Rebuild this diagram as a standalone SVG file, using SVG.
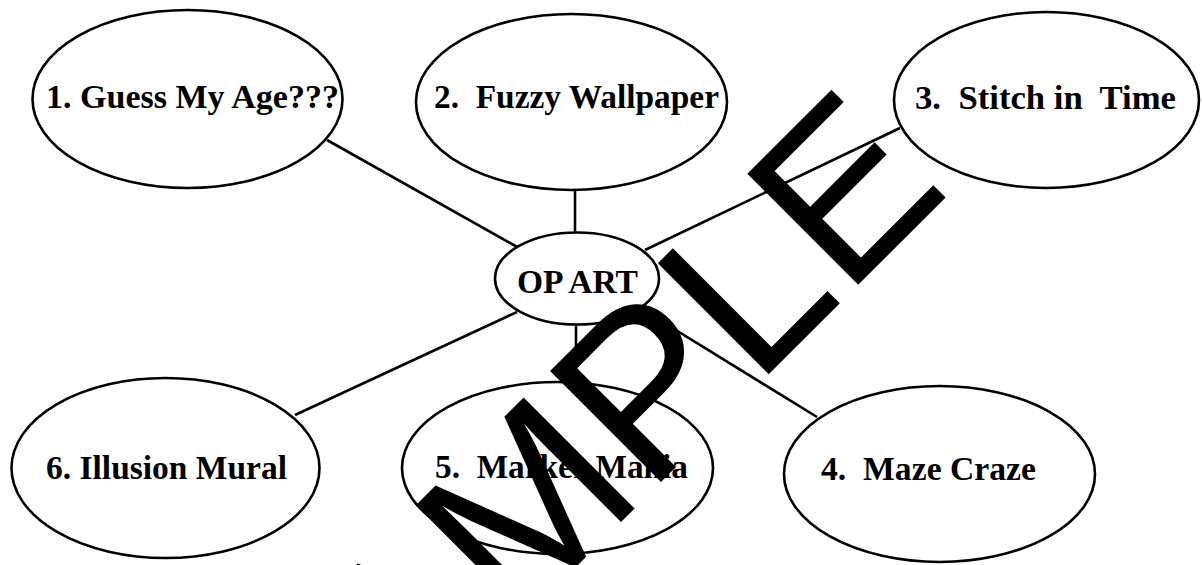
<svg xmlns="http://www.w3.org/2000/svg" width="1202" height="565" viewBox="0 0 1202 565">
<style>
.node ellipse{fill:#fff;stroke:#000;stroke-width:2.6}
.node text{font-family:"Liberation Serif","Times New Roman",serif;font-weight:bold;font-size:33px;fill:#000}
.conn line{stroke:#000;stroke-width:2.6}
.wm{font-family:"Liberation Sans",Arial,sans-serif;font-size:228px;fill:#000}
</style>
<rect width="1202" height="565" fill="#fff"/>
<g id="connectors" class="conn">
<line x1="327" y1="140" x2="519" y2="248"/>
<line x1="575" y1="189" x2="575" y2="233"/>
<line x1="900" y1="128" x2="645" y2="250"/>
<line x1="295" y1="415" x2="517" y2="312"/>
<line x1="576" y1="324" x2="576" y2="384"/>
<line x1="640" y1="308" x2="817" y2="417"/>
</g>
<g id="n1" class="node"><ellipse cx="187.5" cy="99" rx="155" ry="89"/><text x="46" y="108" xml:space="preserve" textLength="293" lengthAdjust="spacingAndGlyphs">1. Guess My Age???</text></g>
<g id="n2" class="node"><ellipse cx="571.5" cy="102" rx="155.5" ry="88"/><text x="434" y="108" xml:space="preserve" textLength="285" lengthAdjust="spacingAndGlyphs">2.  Fuzzy Wallpaper</text></g>
<g id="n3" class="node"><ellipse cx="1046.5" cy="100" rx="152.5" ry="88"/><text x="915" y="109" xml:space="preserve" textLength="261" lengthAdjust="spacingAndGlyphs">3.  Stitch in  Time</text></g>
<g id="op" class="node"><ellipse cx="577" cy="278.5" rx="82" ry="46"/><text x="517" y="293" xml:space="preserve" textLength="121" lengthAdjust="spacingAndGlyphs">OP ART</text></g>
<g id="n6" class="node"><ellipse cx="165.5" cy="468" rx="154" ry="90"/><text x="46" y="479" xml:space="preserve" textLength="241" lengthAdjust="spacingAndGlyphs">6. Illusion Mural</text></g>
<g id="n5" class="node"><ellipse cx="557.5" cy="468" rx="155.5" ry="86"/><text x="435" y="478" xml:space="preserve" textLength="253" lengthAdjust="spacingAndGlyphs">5.  Marker Mania</text></g>
<g id="n4" class="node"><ellipse cx="939.5" cy="474" rx="155.5" ry="88"/><text x="821" y="480" xml:space="preserve" textLength="215" lengthAdjust="spacingAndGlyphs">4.  Maze Craze</text></g>
<g id="watermark"><text class="wm" transform="translate(298.5 844.5) rotate(-45)" x="0" y="0">SAMPLE</text></g>
</svg>
